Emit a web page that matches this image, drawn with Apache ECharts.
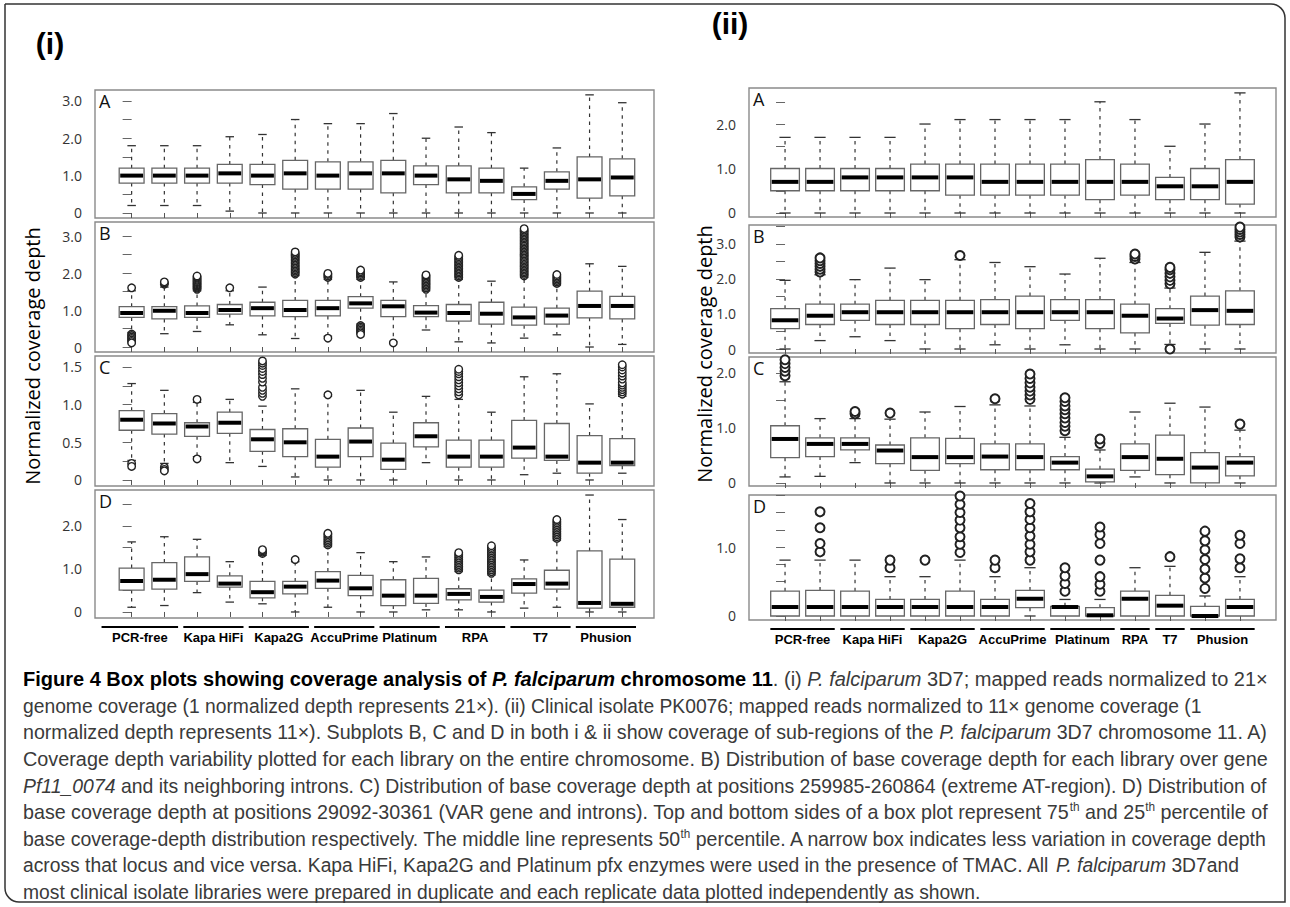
<!DOCTYPE html>
<html><head><meta charset="utf-8">
<script src="https://cdn.jsdelivr.net/npm/echarts@6/dist/echarts.min.js"></script>
<style>html,body{margin:0;padding:0;background:#fff}#c{width:1290px;height:907px}</style>
</head><body><div id="c"></div><script>
// ---------------- DATA ----------------
const libraries = ['PCR-free','Kapa HiFi','Kapa2G','AccuPrime','Platinum','RPA','T7','Phusion'];
const leftGroupFirst = [0,2,4,6,8,10,12,14];
const leftGroupLast  = [1,3,5,7,9,11,13,15];
const rightGroupFirst = [0,2,4,6,8,10,11,12];
const rightGroupLast  = [1,3,5,7,9,10,11,13];

// y tick marks and tick labels for each subplot
const ticksLeftA = [0,0.5,1,1.5,2,2.5,3];     const labelsLeftA = [0,1,2,3];
const ticksLeftB = [0,0.5,1,1.5,2,2.5,3];     const labelsLeftB = [0,1,2,3];
const ticksLeftC = [0,0.25,0.5,0.75,1,1.25,1.5]; const labelsLeftC = [0,0.5,1,1.5];
const ticksLeftD = [0,0.5,1,1.5,2,2.5];       const labelsLeftD = [0,1,2];
const ticksRightA = [0,0.5,1,1.5,2,2.5];      const labelsRightA = [0,1,2];
const ticksRightB = [0,0.5,1,1.5,2,2.5,3,3.5]; const labelsRightB = [0,1,2,3];
const ticksRightC = [0,0.5,1,1.5,2];          const labelsRightC = [0,1,2];
const ticksRightD = [0,0.25,0.5,0.75,1,1.25,1.5,1.75]; const labelsRightD = [0,1];

// boxes: [min, Q1, median, Q3, max]
const leftA = [
 [0.2,0.8,1.0,1.2,1.8],[0.2,0.8,1.0,1.2,1.8],[0.2,0.8,1.0,1.2,1.8],[0.05,0.8,1.06,1.3,2.04],
 [0,0.76,1.0,1.3,2.1],[0,0.64,1.06,1.41,2.5],[0,0.64,1.0,1.37,2.39],[0,0.64,1.06,1.37,2.39],
 [0,0.54,1.06,1.41,2.66],[0,0.76,1.0,1.26,2.0],[0,0.54,0.9,1.26,2.3],[0,0.54,0.86,1.2,2.15],
 [0,0.36,0.51,0.7,1.2],[0,0.64,0.86,1.1,1.74],[0,0.4,0.9,1.5,3.16],[0,0.46,0.95,1.45,2.95]];
const leftAOut = [[],[],[],[],[],[],[],[],[],[],[],[],[],[],[],[]];

const leftB = [
 [0.39,0.8,0.92,1.09,1.52],[0.36,0.76,0.98,1.09,1.62],[0.42,0.8,0.92,1.11,1.52],[0.6,0.89,1.0,1.15,1.52],
 [0.33,0.84,1.05,1.21,1.62],[0.23,0.82,1.0,1.26,1.93],[0.29,0.84,1.05,1.26,1.83],[0.62,1.05,1.18,1.36,1.83],
 [0.14,0.82,1.1,1.26,1.76],[0.46,0.82,0.93,1.12,1.52],[0.14,0.7,0.92,1.15,1.83],[0.11,0.62,0.9,1.21,1.78],
 [0.24,0.59,0.8,1.08,1.88],[0.33,0.62,0.85,1.05,1.68],[0,0.79,1.11,1.51,2.25],[0.07,0.76,1.11,1.37,2.18]];
const leftBOut = [
 [1.6,0.35,0.31,0.27,0.23,0.19,0.15,0.11],
 [1.7,1.73,1.76],
 [1.56,1.59,1.62,1.65,1.68,1.71,1.74,1.77,1.8,1.83,1.86,1.89,1.92],
 [1.6],
 [],
 [1.97,2.01,2.05,2.09,2.13,2.17,2.21,2.25,2.29,2.33,2.37,2.41,2.45,2.49,2.53,2.57],
 [1.88,1.92,1.96,1.99,0.24],
 [1.88,1.92,1.96,2.0,2.04,2.08,0.58,0.54,0.5,0.46,0.42,0.38,0.34],
 [0.11],
 [1.56,1.6,1.64,1.68,1.72,1.76,1.8,1.84,1.88,1.92,1.95],
 [1.88,1.92,1.96,2.0,2.04,2.08,2.12,2.16,2.2,2.24,2.28,2.32,2.36,2.4,2.44,2.48],
 [],
 [1.92,1.96,2.0,2.04,2.08,2.12,2.16,2.2,2.24,2.28,2.32,2.36,2.4,2.44,2.48,2.52,2.56,2.6,2.64,2.68,2.72,2.76,2.8,2.84,2.88,2.92,2.96,3.0,3.04,3.08,3.12,3.16,3.2],
 [1.72,1.76,1.8,1.84,1.88,1.92,1.96],
 [],[]];

const leftC = [
 [0.26,0.66,0.8,0.92,1.28],[0.22,0.61,0.75,0.88,1.19],[0.31,0.58,0.71,0.76,1.03],[0.23,0.62,0.76,0.9,1.07],
 [0.18,0.38,0.54,0.67,0.98],[0.04,0.31,0.5,0.68,1.21],[0,0.17,0.31,0.54,1.11],[0,0.31,0.51,0.69,1.19],
 [0,0.14,0.27,0.49,0.9],[0.23,0.44,0.58,0.76,1.11],[0,0.17,0.31,0.53,1.07],[0,0.17,0.31,0.53,0.9],
 [0.07,0.29,0.43,0.79,1.37],[0.09,0.26,0.31,0.75,1.41],[0,0.09,0.23,0.59,1.01],[0.09,0.19,0.23,0.55,1.11]];
const leftCOut = [
 [0.22,0.18],[0.17,0.14,0.12],[1.07,0.28],[],
 [1.11,1.15,1.19,1.23,1.3,1.35,1.4,1.44,1.48,1.52,1.55,1.58],[],[1.13],[],
 [],[],[1.13,1.17,1.21,1.25,1.29,1.33,1.37,1.41,1.44,1.47],[],
 [],[],[],[1.14,1.17,1.2,1.23,1.26,1.29,1.34,1.38,1.42,1.46,1.5,1.53]];

const leftD = [
 [0.11,0.51,0.72,1.02,1.63],[0.15,0.53,0.75,1.15,1.75],[0.45,0.71,0.88,1.28,1.69],[0.23,0.58,0.66,0.84,1.17],
 [0.19,0.33,0.46,0.71,1.32],[0,0.42,0.59,0.71,1.17],[0.11,0.55,0.73,0.94,1.52],[0,0.38,0.55,0.85,1.38],
 [0,0.15,0.38,0.75,1.17],[0.05,0.2,0.38,0.78,1.28],[0.05,0.28,0.42,0.54,0.94],[0,0.23,0.35,0.51,0.86],
 [0.09,0.44,0.65,0.77,1.21],[0.11,0.53,0.66,0.97,1.67],[0,0.09,0.21,1.42,2.72],[0,0.11,0.19,1.23,2.15]];
const leftDOut = [
 [],[],[],[],
 [1.36,1.39,1.42,1.45],[1.22],[1.56,1.6,1.64,1.68,1.72,1.76,1.8,1.83],[],
 [],[],[0.98,1.02,1.06,1.1,1.14,1.18,1.22,1.26,1.3,1.34,1.38],
 [0.9,0.94,0.98,1.02,1.06,1.1,1.14,1.18,1.22,1.26,1.3,1.34,1.38,1.42,1.46,1.5,1.54],
 [],[1.71,1.75,1.79,1.83,1.87,1.91,1.95,1.99,2.03,2.07,2.11,2.15],[],[]];

const rightA = [
 [0,0.5,0.7,1.0,1.7],[0,0.5,0.7,1.0,1.7],[0,0.5,0.8,1.0,1.7],[0,0.5,0.8,1.0,1.7],
 [0,0.5,0.8,1.1,2.0],[0,0.4,0.8,1.1,2.1],[0,0.4,0.7,1.1,2.1],[0,0.4,0.7,1.1,2.1],
 [0,0.4,0.7,1.1,2.1],[0,0.3,0.7,1.2,2.5],[0,0.4,0.7,1.1,2.1],[0,0.3,0.6,0.8,1.5],
 [0,0.3,0.6,1.0,2.0],[0,0.2,0.7,1.2,2.7]];
const rightAOut = [[],[],[],[],[],[],[],[],[],[],[],[],[],[]];

const rightB = [
 [0,0.58,0.82,1.15,1.96],[0.24,0.7,0.95,1.28,2.12],[0.35,0.82,1.05,1.28,1.98],[0.24,0.7,1.05,1.39,2.31],
 [0,0.7,1.05,1.39,1.98],[0,0.58,1.05,1.39,2.55],[0.12,0.7,1.05,1.41,2.47],[0,0.58,1.05,1.51,2.35],
 [0.12,0.82,1.05,1.41,2.14],[0,0.58,1.05,1.41,2.59],[0,0.46,0.95,1.28,2.47],[0.13,0.73,0.87,1.15,1.74],
 [0,0.68,1.11,1.51,2.76],[0,0.7,1.09,1.66,3.08]];
const rightBOut = [
 [],[2.2,2.28,2.36,2.44,2.52,2.6],[],[],[],[2.67],[],[],[],[],
 [2.57,2.64,2.71],[1.86,1.96,2.06,2.16,2.26,2.33,0.0],[],[3.2,3.27,3.34,3.41,3.48]];

const rightC = [
 [0.11,0.46,0.8,1.04,1.84],[0.12,0.48,0.71,0.82,1.17],[0.37,0.6,0.71,0.82,1.17],[0,0.35,0.59,0.69,1.16],
 [0,0.23,0.47,0.82,1.29],[0,0.35,0.47,0.81,1.39],[0,0.24,0.48,0.71,1.42],[0,0.24,0.47,0.71,1.4],
 [0,0.24,0.37,0.48,0.83],[0,0.02,0.12,0.25,0.6],[0.11,0.23,0.47,0.71,1.29],[0,0.15,0.44,0.87,1.45],
 [0,0,0.28,0.55,1.38],[0,0.13,0.37,0.48,0.96]];
const rightCOut = [
 [1.95,2.03,2.1,2.17,2.24],[],[1.26,1.3],[1.27],[],[],[1.53],
 [1.52,1.6,1.67,1.74,1.82,1.9,1.98],[0.95,1.03,1.1,1.18,1.26,1.33,1.4,1.48,1.55],
 [0.72,0.8],[],[],[],[1.07]];

const rightD = [
 [0,0,0.13,0.36,0.81],[0,0,0.13,0.37,0.81],[0,0,0.13,0.36,0.81],[0,0,0.13,0.24,0.57],
 [0,0,0.13,0.24,0.57],[0,0,0.13,0.36,0.81],[0,0,0.13,0.24,0.57],[0,0.12,0.25,0.37,0.7],
 [0,0,0.13,0.14,0.24],[0,0,0.01,0.12,0.24],[0,0,0.25,0.36,0.7],[0,0,0.15,0.3,0.72],
 [0,0,0,0.14,0.29],[0,0,0.13,0.24,0.57]];
const rightDOut = [
 [],[0.93,1.05,1.28,1.51],[],[0.7,0.81],[0.81],[0.92,1.04,1.15,1.28,1.39,1.5,1.62,1.74],[0.7,0.81],
 [0.81,0.93,1.04,1.16,1.28,1.4,1.51,1.63],[0.36,0.47,0.58,0.7],[0.36,0.46,0.57,0.81,1.05,1.18,1.29],
 [],[0.86],[0.4,0.55,0.68,0.82,0.96,1.09,1.23],[0.7,0.83,1.05,1.17]];

// caption lines: [style, text]
const captionLines = [
 [['b','Figure 4 Box plots showing coverage analysis of '],['bi','P. falciparum'],['b',' chromosome 11'],['n','. (i) '],['i','P. falciparum'],['n',' 3D7; mapped reads normalized to 21×']],
 [['n','genome coverage (1 normalized depth represents 21×). (ii) Clinical isolate PK0076; mapped reads normalized to 11× genome coverage (1']],
 [['n','normalized depth represents 11×). Subplots B, C and D in both i & ii show coverage of sub-regions of the '],['i','P. falciparum'],['n',' 3D7 chromosome 11. A)']],
 [['n','Coverage depth variability plotted for each library on the entire chromosome. B) Distribution of base coverage depth for each library over gene']],
 [['i','Pf11_0074'],['n',' and its neighboring introns. C) Distribution of base coverage depth at positions 259985-260864 (extreme AT-region). D) Distribution of']],
 [['n','base coverage depth at positions 29092-30361 (VAR gene and introns). Top and bottom sides of a box plot represent 75'],['s','th'],['n',' and 25'],['s','th'],['n',' percentile of']],
 [['n','base coverage-depth distribution respectively. The middle line represents 50'],['s','th'],['n',' percentile. A narrow box indicates less variation in coverage depth']],
 [['n','across that locus and vice versa. Kapa HiFi, Kapa2G and Platinum pfx enzymes were used in the presence of TMAC. All '],['i','P. falciparum'],['n',' 3D7and']],
 [['n','most clinical isolate libraries were prepared in duplicate and each replicate data plotted independently as shown.']]
];
const captionJustified = [true,false,true,true,true,true,true,false,false];

// ---------------- LAYOUT / STYLE ----------------
const TICK_FONT = '"Open Sans","Liberation Sans",sans-serif';
const CAP_FONT = '"Liberation Sans Narrow","Liberation Sans",Arial,sans-serif';
const L = {x:95, w:559, xmin:-1.12, xmax:15.97, bw:0.76, cw:0.26, sym:7.5, symBW:1.4, firstPad:0.92};
const R = {x:749, w:527, xmin:-1.03, xmax:14.03, bw:0.82, cw:0.32, sym:9, symBW:2, firstPad:0.42};
const panels = [
 {s:L, letter:'A', top:90,  h:128, ymin:-0.134, ymax:3.29, box:leftA, out:leftAOut, ticks:ticksLeftA, labels:labelsLeftA},
 {s:L, letter:'B', top:222, h:130, ymin:-0.135, ymax:3.38, box:leftB, out:leftBOut, ticks:ticksLeftB, labels:labelsLeftB},
 {s:L, letter:'C', top:356, h:130, ymin:-0.08, ymax:1.646, box:leftC, out:leftCOut, ticks:ticksLeftC, labels:labelsLeftC},
 {s:L, letter:'D', top:490, h:128, ymin:-0.14, ymax:2.837, box:leftD, out:leftDOut, ticks:ticksLeftD, labels:labelsLeftD, groups:[leftGroupFirst,leftGroupLast]},
 {s:R, letter:'A', top:88,  h:129, ymin:-0.09, ymax:2.81, box:rightA, out:rightAOut, ticks:ticksRightA, labels:labelsRightA},
 {s:R, letter:'B', top:225, h:128, ymin:-0.114, ymax:3.54, box:rightB, out:rightBOut, ticks:ticksRightB, labels:labelsRightB},
 {s:R, letter:'C', top:357, h:129, ymin:-0.055, ymax:2.29, box:rightC, out:rightCOut, ticks:ticksRightC, labels:labelsRightC},
 {s:R, letter:'D', top:495, h:125, ymin:-0.058, ymax:1.754, box:rightD, out:rightDOut, ticks:ticksRightD, labels:labelsRightD, groups:[rightGroupFirst,rightGroupLast]}
];

const grid=[], xAxis=[], yAxis=[], series=[], graphic=[];
panels.forEach((p,gi)=>{
  const s=p.s;
  grid.push({left:s.x, top:p.top, width:s.w, height:p.h, show:true, borderColor:'#8a8a8a', borderWidth:1.4, backgroundColor:'transparent'});
  xAxis.push({type:'value', gridIndex:gi, min:s.xmin, max:s.xmax,
    axisLine:{show:false}, splitLine:{show:false},
    axisTick:{show:true, inside:false, length:5, customValues:p.box.map((b,i)=>i), lineStyle:{color:'#555',width:1}},
    axisLabel:{show:false}});
  yAxis.push({type:'value', gridIndex:gi, min:p.ymin, max:p.ymax,
    axisLine:{show:false}, splitLine:{show:false},
    axisTick:{show:true, inside:false, length:9, customValues:p.ticks, lineStyle:{color:'#666',width:1}},
    axisLabel:{show:true, customValues:p.labels, margin:13, fontFamily:TICK_FONT, fontSize:14, color:'#333',
      formatter:v=> v===0?'0':(+v).toFixed(1)}});
  // boxes
  series.push({type:'custom', xAxisIndex:gi, yAxisIndex:gi, clip:false, z:3, silent:true,
    data:p.box.map((b,i)=>[i].concat(b)),
    encode:{x:0, y:[1,2,3,4,5]},
    renderItem(params, api){
      const x=api.value(0), mn=api.value(1), q1=api.value(2), md=api.value(3), q3=api.value(4), mx=api.value(5);
      const pMin=api.coord([x,mn]), pQ1=api.coord([x,q1]), pMd=api.coord([x,md]), pQ3=api.coord([x,q3]), pMx=api.coord([x,mx]);
      const half=api.size([s.bw,0])[0]/2, capHalf=api.size([s.cw,0])[0]/2;
      const cx=pMd[0];
      const ch=[];
      const dash={stroke:'#333', lineWidth:1.2, lineDash:[3.5,4.5], fill:null};
      const cap={stroke:'#333', lineWidth:1.3, fill:null};
      if(mx>q3){
        ch.push({type:'line', shape:{x1:cx,y1:pQ3[1],x2:cx,y2:pMx[1]}, style:dash});
        ch.push({type:'line', shape:{x1:cx-capHalf,y1:pMx[1],x2:cx+capHalf,y2:pMx[1]}, style:cap});
      }
      if(mn<q1){
        ch.push({type:'line', shape:{x1:cx,y1:pQ1[1],x2:cx,y2:pMin[1]}, style:dash});
        ch.push({type:'line', shape:{x1:cx-capHalf,y1:pMin[1],x2:cx+capHalf,y2:pMin[1]}, style:cap});
      }
      ch.push({type:'rect', shape:{x:cx-half, y:pQ3[1], width:2*half, height:Math.max(pQ1[1]-pQ3[1],0.5)}, style:{fill:'#fff', stroke:'#666', lineWidth:1.3}});
      ch.push({type:'line', shape:{x1:cx-half+1, y1:pMd[1], x2:cx+half-1, y2:pMd[1]}, style:{stroke:'#000', lineWidth:4}});
      return {type:'group', children:ch};
    }});
  // outliers
  const od=[]; p.out.forEach((arr,i)=>arr.forEach(v=>od.push([i,v])));
  series.push({type:'scatter', xAxisIndex:gi, yAxisIndex:gi, data:od, symbol:'circle', symbolSize:s.sym,
    itemStyle:{color:'#fff', borderColor:'#222', borderWidth:s.symBW, opacity:1}, clip:false, z:4, silent:true});
  // group labels
  if(p.groups){
    const [first,last]=p.groups;
    series.push({type:'custom', xAxisIndex:gi, yAxisIndex:gi, clip:false, silent:true, z:5,
      data:first.map((f,k)=>[f-(k===0?s.firstPad:0.42), last[k]+0.42]),
      encode:{x:[0,1]},
      renderItem(params, api){
        const a=api.coord([api.value(0),0]), b=api.coord([api.value(1),0]);
        const yb=params.coordSys.y+params.coordSys.height;
        return {type:'group', children:[
          {type:'line', shape:{x1:a[0],y1:yb+9,x2:b[0],y2:yb+9}, style:{stroke:'#000', lineWidth:2}},
          {type:'text', style:{text:libraries[params.dataIndex], x:(a[0]+b[0])/2, y:yb+19, align:'center', verticalAlign:'middle',
            font:'bold 13px '+CAP_FONT, fill:'#000'}}
        ]};
      }});
  }
  graphic.push({type:'text', x:s.x+4, y:p.top+2, z:10, style:{text:p.letter, font:'18px '+TICK_FONT, fill:'#111', align:'left', verticalAlign:'top'}});
});

// figure titles & axis names
graphic.push({type:'text', x:50, y:43, style:{text:'(i)', font:'bold 30px "Liberation Sans",Arial,sans-serif', fill:'#000', align:'center', verticalAlign:'middle'}});
graphic.push({type:'text', x:730, y:23, style:{text:'(ii)', font:'bold 30px "Liberation Sans",Arial,sans-serif', fill:'#000', align:'center', verticalAlign:'middle'}});
graphic.push({type:'text', x:32, y:356, rotation:Math.PI/2, style:{text:'Normalized coverage depth', font:'20px '+TICK_FONT, fill:'#000', align:'center', verticalAlign:'middle'}});
graphic.push({type:'text', x:704, y:354, rotation:Math.PI/2, style:{text:'Normalized coverage depth', font:'20px '+TICK_FONT, fill:'#000', align:'center', verticalAlign:'middle'}});
// outer frame
graphic.push({type:'rect', z:-5, shape:{x:5,y:4,width:1280,height:898,r:[0,14,0,14]}, style:{fill:null, stroke:'#333', lineWidth:1.5}});

// caption
const capStyles = {
  n:{font:['normal','normal',20], fill:'#3a3a3a'},
  b:{font:['normal','bold',20], fill:'#000'},
  i:{font:['italic','normal',20], fill:'#3a3a3a'},
  bi:{font:['italic','bold',20], fill:'#000'},
  s:{font:['normal','normal',12], fill:'#3a3a3a', sup:true}
};
const mctx=document.createElement('canvas').getContext('2d');
function measureLine(line){
  return line.reduce((w,[st,t])=>{const f=capStyles[st].font; mctx.font=`${f[0]} ${f[1]} ${f[2]}px ${CAP_FONT}`; return w+mctx.measureText(t).width;},0);
}
const rich={};
Object.keys(capStyles).forEach(k=>{const c=capStyles[k]; rich[k]={fontStyle:c.font[0], fontWeight:c.font[1], fontSize:c.font[2], fontFamily:CAP_FONT, fill:c.fill, lineHeight:c.sup?12:22, verticalAlign:c.sup?'top':'middle'};});
const naturalScale = 1180/measureLine(captionLines[1]);
captionLines.forEach((line,k)=>{
  const sx = captionJustified[k] ? 1245/measureLine(line) : naturalScale;
  graphic.push({type:'text', x:23, y:679+26.6*k, scaleX:sx, originX:0, originY:0,
    style:{text:line.map(([st,t])=>'{'+st+'|'+t+'}').join(''), rich, x:0, y:0, align:'left', verticalAlign:'middle'}});
});

const chart = echarts.init(document.getElementById('c'), null, {renderer:'svg', width:1290, height:907});
chart.setOption({animation:false, backgroundColor:'#fff', grid, xAxis, yAxis, series, graphic});
</script></body></html>
